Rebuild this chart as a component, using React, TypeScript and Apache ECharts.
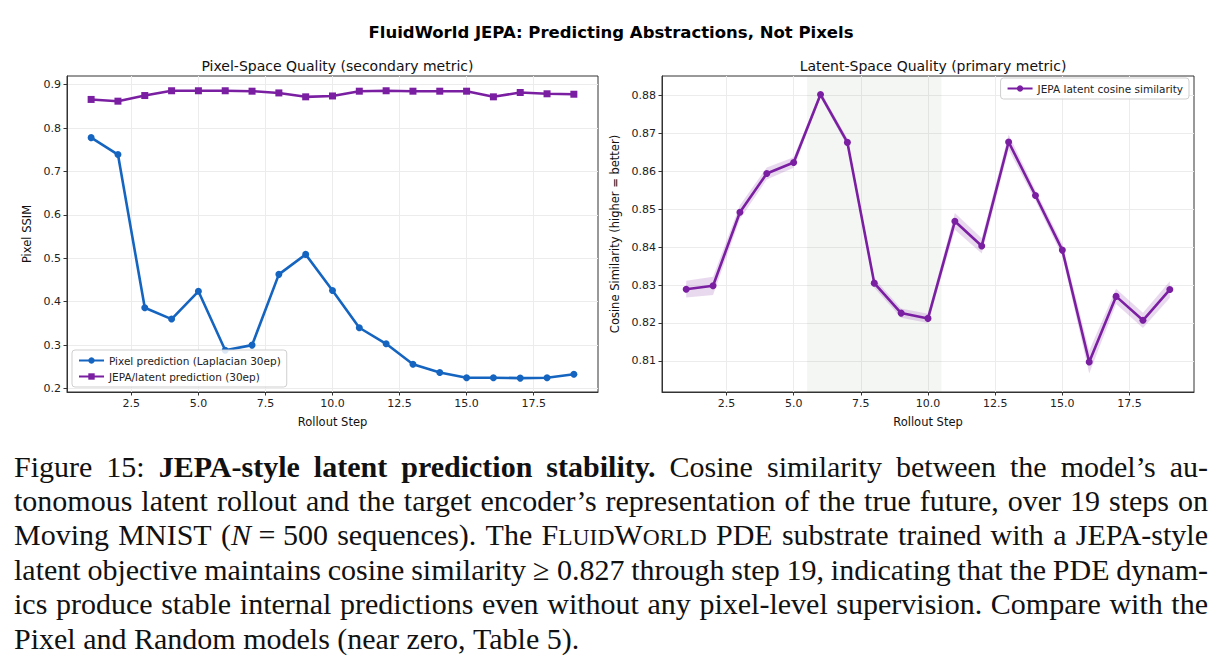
import React, { useEffect, useRef } from "react";
import * as echarts from "echarts";

// Rollout steps and per-step metrics
const steps = [1, 2, 3, 4, 5, 6, 7, 8, 9, 10, 11, 12, 13, 14, 15, 16, 17, 18, 19];
const pixelSsim = [0.778, 0.739, 0.386, 0.36, 0.424, 0.288, 0.3, 0.463, 0.509, 0.426, 0.34, 0.303, 0.256, 0.237, 0.225, 0.225, 0.224, 0.225, 0.233];
const jepaSsim = [0.866, 0.862, 0.875, 0.886, 0.886, 0.886, 0.885, 0.881, 0.872, 0.874, 0.885, 0.886, 0.885, 0.885, 0.885, 0.872, 0.882, 0.879, 0.878];
const latentCos = [0.8289, 0.8298, 0.8492, 0.8594, 0.8623, 0.8802, 0.8676, 0.8305, 0.8226, 0.8212, 0.8468, 0.8403, 0.8677, 0.8536, 0.8392, 0.8097, 0.827, 0.8207, 0.8288];
const latentCi = [0.0022, 0.0024, 0.0018, 0.0016, 0.0014, 0.0008, 0.001, 0.0012, 0.0012, 0.0012, 0.0022, 0.002, 0.002, 0.0014, 0.0016, 0.003, 0.002, 0.002, 0.0022];
const highlightSpan = [5.5, 10.5];

const stepTicks = [2.5, 5, 7.5, 10, 12.5, 15, 17.5];
const ssimTicks = [0.2, 0.3, 0.4, 0.5, 0.6, 0.7, 0.8, 0.9];
const cosTicks = [0.81, 0.82, 0.83, 0.84, 0.85, 0.86, 0.87, 0.88];

const BLUE = "#1565C0";
const PURPLE = "#7B1FA2";
const SANS = "DejaVu Sans";
const SERIF = "Liberation Serif";

// Caption: runs of [text, style]; n = normal, b = bold, i = italic, sc = small caps
type Run = [string, string];
const captionLines: Run[][] = [
  [["Figure 15: ", "n"], ["JEPA-style latent prediction stability.", "b"], [" Cosine similarity between the model\u2019s au-", "n"]],
  [["tonomous latent rollout and the target encoder\u2019s representation of the true future, over 19 steps on", "n"]],
  [["Moving MNIST (", "n"], ["N", "i"], ["\u00a0=\u00a0500 sequences). The ", "n"], ["F", "n"], ["LUID", "sc"], ["W", "n"], ["ORLD", "sc"], [" PDE substrate trained with a JEPA-style", "n"]],
  [["latent objective maintains cosine similarity \u2265\u00a00.827 through step 19, indicating that the PDE dynam-", "n"]],
  [["ics produce stable internal predictions even without any pixel-level supervision. Compare with the", "n"]],
  [["Pixel and Random models (near zero, Table 5).", "n"]],
];

const CAP_FS = 30;
const CAP_SC_FS = 23.5;
const CAP_LEFT = 14;
const CAP_RIGHT = 1208;
const CAP_Y0 = 466;
const CAP_LEAD = 34.4;

function runFont(style: string) {
  if (style === "b") return `bold ${CAP_FS}px "${SERIF}"`;
  if (style === "i") return `italic ${CAP_FS}px "${SERIF}"`;
  if (style === "sc") return `${CAP_SC_FS}px "${SERIF}"`;
  return `${CAP_FS}px "${SERIF}"`;
}

function buildCaption(): any[] {
  const canvas = document.createElement("canvas");
  const ctx = canvas.getContext("2d")!;
  const measure = (t: string, s: string) => {
    ctx.font = runFont(s);
    return ctx.measureText(t).width;
  };
  const elements: any[] = [];
  captionLines.forEach((line, li) => {
    // split runs into words on ordinary spaces
    const words: Run[][] = [];
    let cur: Run[] = [];
    line.forEach(([text, style]) => {
      const parts = text.split(" ");
      parts.forEach((p, pi) => {
        if (pi > 0) {
          if (cur.length) words.push(cur);
          cur = [];
        }
        if (p.length) cur.push([p, style]);
      });
    });
    if (cur.length) words.push(cur);

    const widths = words.map((w) => w.reduce((a, [t, s]) => a + measure(t, s), 0));
    const total = widths.reduce((a, b) => a + b, 0);
    const last = li === captionLines.length - 1;
    const space = measure(" ", "n");
    const gap = last ? space : (CAP_RIGHT - CAP_LEFT - total) / (words.length - 1);
    const y = CAP_Y0 + li * CAP_LEAD;
    let x = CAP_LEFT;
    words.forEach((w, wi) => {
      let rx = x;
      w.forEach(([t, s]) => {
        const fs = s === "sc" ? CAP_SC_FS : CAP_FS;
        elements.push({
          type: "text",
          x: rx,
          y: y + 0.3375 * (CAP_FS - fs),
          silent: true,
          style: {
            text: t,
            fontFamily: SERIF,
            fontSize: fs,
            fontWeight: s === "b" ? "bold" : "normal",
            fontStyle: s === "i" ? "italic" : "normal",
            fill: "#111",
            align: "left",
            verticalAlign: "middle",
          },
        });
        rx += measure(t, s);
      });
      x += widths[wi] + gap;
    });
  });
  return elements;
}

const G1 = { left: 67, top: 76, width: 531, height: 316 };
const G2 = { left: 662, top: 76, width: 532, height: 316 };

function xAxisFor(gridIndex: number) {
  return {
    type: "value",
    gridIndex,
    min: 0.1,
    max: 19.9,
    name: "Rollout Step",
    nameLocation: "middle",
    nameGap: 24,
    nameTextStyle: { fontFamily: SANS, fontSize: 11.5, color: "#111" },
    axisLine: { show: true, onZero: false, lineStyle: { color: "#333", width: 1 } },
    axisTick: { show: true, customValues: stepTicks, length: 3.5, lineStyle: { color: "#333" } },
    axisLabel: {
      customValues: stepTicks,
      formatter: (v: number) => v.toFixed(1),
      fontFamily: SANS,
      fontSize: 11,
      color: "#222",
      margin: 6,
    },
    splitLine: { show: true, lineStyle: { color: "#ececec", width: 1 } },
  };
}

function yAxisFor(gridIndex: number, min: number, max: number, ticks: number[], digits: number, name: string, gap: number) {
  return {
    type: "value",
    gridIndex,
    min,
    max,
    name,
    nameLocation: "middle",
    nameGap: gap,
    nameTextStyle: { fontFamily: SANS, fontSize: 11.5, color: "#111" },
    axisLine: { show: true, onZero: false, lineStyle: { color: "#333", width: 1 } },
    axisTick: { show: true, customValues: ticks, length: 3.5, lineStyle: { color: "#333" } },
    axisLabel: {
      customValues: ticks,
      formatter: (v: number) => v.toFixed(digits),
      fontFamily: SANS,
      fontSize: 11,
      color: "#222",
      margin: 6,
    },
    splitLine: { show: true, lineStyle: { color: "#ececec", width: 1 } },
  };
}

const legendBase = {
  orient: "vertical",
  itemWidth: 25,
  itemHeight: 8,
  itemGap: 5,
  textStyle: { fontFamily: SANS, fontSize: 10.5, color: "#222" },
  backgroundColor: "rgba(255,255,255,0.85)",
  borderColor: "#cfcfcf",
  borderWidth: 1,
  borderRadius: 3,
  padding: [5, 6, 5, 6],
};

export default function App() {
  const ref = useRef<HTMLDivElement>(null);

  useEffect(() => {
    document.body.style.margin = "0";
    const chart = echarts.init(ref.current!, null, { renderer: "svg" });

    const option: any = {
      animation: false,
      backgroundColor: "#fff",
      title: [
        {
          text: "FluidWorld JEPA: Predicting Abstractions, Not Pixels",
          left: 606,
          top: 19,
          textAlign: "center",
          textStyle: { fontFamily: SANS, fontSize: 16.5, fontWeight: "bold", color: "#000" },
        },
        {
          text: "Pixel-Space Quality (secondary metric)",
          left: G1.left + G1.width / 2,
          top: 54,
          textAlign: "center",
          textStyle: { fontFamily: SANS, fontSize: 14, fontWeight: "normal", color: "#111" },
        },
        {
          text: "Latent-Space Quality (primary metric)",
          left: G2.left + G2.width / 2,
          top: 54,
          textAlign: "center",
          textStyle: { fontFamily: SANS, fontSize: 14, fontWeight: "normal", color: "#111" },
        },
      ],
      grid: [
        { ...G1, show: true, borderColor: "#333", borderWidth: 1, backgroundColor: "transparent" },
        { ...G2, show: true, borderColor: "#333", borderWidth: 1, backgroundColor: "transparent" },
      ],
      xAxis: [xAxisFor(0), xAxisFor(1)],
      yAxis: [
        yAxisFor(0, 0.192, 0.92, ssimTicks, 1, "Pixel SSIM", 34),
        yAxisFor(1, 0.8018, 0.8851, cosTicks, 2, "Cosine Similarity (higher = better)", 41),
      ],
      legend: [
        {
          ...legendBase,
          left: 72,
          top: 350,
          data: ["Pixel prediction (Laplacian 30ep)", "JEPA/latent prediction (30ep)"],
        },
        {
          ...legendBase,
          right: 34,
          top: 78,
          data: ["JEPA latent cosine similarity"],
        },
      ],
      series: [
        {
          name: "Pixel prediction (Laplacian 30ep)",
          type: "line",
          xAxisIndex: 0,
          yAxisIndex: 0,
          data: steps.map((s, i) => [s, pixelSsim[i]]),
          symbol: "circle",
          symbolSize: 7,
          lineStyle: { color: BLUE, width: 2.6 },
          itemStyle: { color: BLUE },
          z: 3,
        },
        {
          name: "JEPA/latent prediction (30ep)",
          type: "line",
          xAxisIndex: 0,
          yAxisIndex: 0,
          data: steps.map((s, i) => [s, jepaSsim[i]]),
          symbol: "rect",
          symbolSize: 7,
          lineStyle: { color: PURPLE, width: 2.6 },
          itemStyle: { color: PURPLE },
          z: 4,
        },
        {
          name: "latent band",
          type: "custom",
          xAxisIndex: 1,
          yAxisIndex: 1,
          silent: true,
          data: steps.map((s, i) => [s, latentCos[i] - latentCi[i], latentCos[i] + latentCi[i]]),
          encode: { x: 0, y: [1, 2] },
          renderItem: (params: any, api: any) => {
            if (params.dataIndex !== 0) return null;
            const lower = steps.map((s, i) => api.coord([s, latentCos[i] - latentCi[i]]));
            const upper = steps.map((s, i) => api.coord([s, latentCos[i] + latentCi[i]])).reverse();
            return {
              type: "polygon",
              shape: { points: lower.concat(upper) },
              style: { fill: "rgba(123,31,162,0.17)", stroke: "none" },
            };
          },
          z: 2,
        },
        {
          name: "JEPA latent cosine similarity",
          type: "line",
          xAxisIndex: 1,
          yAxisIndex: 1,
          data: steps.map((s, i) => [s, latentCos[i]]),
          symbol: "circle",
          symbolSize: 7,
          lineStyle: { color: PURPLE, width: 2.6 },
          itemStyle: { color: PURPLE },
          z: 4,
          markArea: {
            silent: true,
            itemStyle: { color: "rgba(60,110,60,0.06)" },
            data: [[{ xAxis: highlightSpan[0] }, { xAxis: highlightSpan[1] }]],
          },
        },
      ],
      graphic: buildCaption(),
    };

    chart.setOption(option);
    return () => chart.dispose();
  }, []);

  return <div ref={ref} style={{ width: 1223, height: 667 }} />;
}
